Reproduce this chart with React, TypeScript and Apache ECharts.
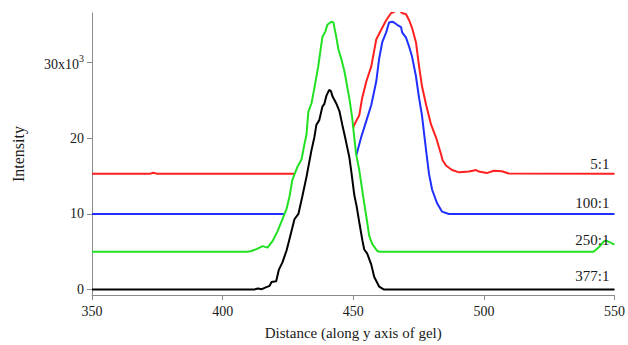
import React, { useEffect, useRef } from "react";
import * as echarts from "echarts";

// x: distance along y axis of gel, y: intensity in thousands.
// "-" marks where a trace runs hidden underneath the 250:1 trace.
const redPoints: ([number, number] | string)[] = [
  [350, 15.3], [372, 15.3], [373.5, 15.45], [375, 15.3], [427.4, 15.3],
  "-",
  [450.0, 21.4], [450.4, 21.8], [452.3, 23.05], [453.4, 25.3], [455, 27.5], [456.9, 29.5],
  [458.8, 33.05], [460.7, 34.35], [462.6, 35.6], [464.5, 36.56], [465.6, 36.7], [466.5, 36.95],
  [467.5, 36.95], [468.7, 36.56], [470.2, 36.4], [471.4, 35.6], [472.5, 34.6], [474, 32.7],
  [475.2, 29.5], [476.3, 26.9], [477.9, 24.4], [479.8, 21.8], [481.7, 20.1], [483.6, 17.9],
  [484.2, 17.1], [485.5, 16.4], [487.8, 15.8], [490.5, 15.5], [494.3, 15.6], [497, 15.8],
  [498.1, 15.6], [501.1, 15.4], [503.8, 15.7], [506.9, 15.65], [509.5, 15.35], [550, 15.3],
];

const bluePoints: ([number, number] | string)[] = [
  [350, 10.0], [423.7, 10.0],
  "-",
  [451.2, 17.8],
  [453, 20.1], [455, 22.3], [456.9, 24.4], [458.8, 27.5], [459.9, 30.5], [461.1, 32.7],
  [462.6, 34.0], [463.7, 35.3], [464.9, 35.4], [465.6, 35.3], [466.8, 35.0], [468.3, 34.7],
  [468.7, 34.0], [470.2, 33.3], [471.4, 32.1], [472.5, 30.8], [474, 28.2], [475.2, 25.3],
  [476.3, 23.05], [477.3, 20.1], [478.2, 17.5], [479, 15.3], [480.2, 13.2], [482.1, 11.4],
  [484, 10.3], [486.6, 10.0], [550, 10.0],
];

const greenPoints: [number, number][] = [
  [350, 5.0], [409.5, 5.0], [411, 5.1], [413, 5.35], [415.3, 5.75], [417.2, 5.55], [419.1, 6.4],
  [421, 7.7], [422.9, 9.3], [424.4, 10.6], [425.6, 12.3], [426.7, 14.5], [428.6, 16.2],
  [430.2, 17.2], [431.3, 19.2], [432.1, 20.5], [432.8, 23.5], [434, 24.6], [435.1, 26.6],
  [436.6, 29.5], [437.4, 31.5], [438.2, 33.4], [439.3, 34.1], [440.1, 35.0], [441.6, 35.4],
  [442.4, 35.3], [443.5, 33.4], [444.3, 31.8], [445.4, 30.5], [446.6, 28.9], [447.3, 27.6],
  [447.7, 26.8], [448.5, 25.3], [449.6, 22.7], [450.4, 20.1], [451.1, 17.9], [452.3, 15.8],
  [454.2, 11.4], [455.3, 9.0], [456.1, 7.1], [457.3, 6.0], [459.2, 5.1], [460, 5.0],
  [542, 5.0], [544, 5.6], [546, 6.4], [547, 6.45], [548.5, 6.2], [550, 5.95],
];

const blackPoints: [number, number][] = [
  [350, 0], [412, 0], [413.5, 0.15], [415, 0.05], [416.5, 0.3], [418, 0.5], [418.7, 1.0],
  [420.5, 1.1], [421.5, 2.6], [422.9, 3.6], [424.5, 5.2], [425.6, 6.7], [427.5, 9.3],
  [429, 10.0], [430.5, 12.3], [432.1, 14.9], [434, 18.4], [435.1, 20.1], [435.9, 21.8],
  [437, 22.4], [438.2, 24.2], [438.9, 24.5], [439.7, 25.6], [440.8, 26.4], [441.5, 26.2],
  [442, 25.6], [443.5, 24.6], [444.7, 23.6], [445.8, 21.8], [446.9, 20.1], [447.7, 18.8],
  [448.5, 17.5], [449.3, 15.5], [450.4, 12.5], [451.3, 11.0], [452.5, 8.5], [453.5, 6.5],
  [454.2, 5.3], [455.3, 4.8], [456.9, 3.3], [458, 1.7], [459.9, 0.4], [461.8, 0], [550, 0],
];

const seriesNames = ["5:1", "100:1", "250:1", "377:1"];
const seriesBaselines = [15.3, 10.0, 5.0, 0];
const xTicks = [350, 400, 450, 500, 550];
const yTicks = [0, 10, 20, 30];

const FONT = "'Liberation Serif', 'Times New Roman', serif";
const AXIS_COLOR = "#8a8a8a";
const TEXT_COLOR = "#1a1a1a";

export default function App() {
  const ref = useRef<HTMLDivElement>(null);

  useEffect(() => {
    document.body.style.margin = "0";
    if (!ref.current) return;
    const chart = echarts.init(ref.current, null, { renderer: "svg" });

    const colors = ["#ff2020", "#2030ff", "#22e022", "#000000"];
    const pointSets = [redPoints, bluePoints, greenPoints, blackPoints];
    const labelOffsets = [-2, -3, -4, -6];

    const series = pointSets.map((pts, i) => ({
      type: "line",
      name: seriesNames[i],
      data: pts,
      showSymbol: false,
      symbol: "none",
      smooth: false,
      connectNulls: false,
      clip: true,
      lineStyle: { color: colors[i], width: 2 },
      itemStyle: { color: colors[i] },
      z: 2 + i,
      markPoint: {
        silent: true,
        symbol: "circle",
        symbolSize: 0,
        data: [
          {
            coord: [xTicks[xTicks.length - 1], seriesBaselines[i]],
            label: {
              show: true,
              formatter: seriesNames[i],
              position: [-5, labelOffsets[i]],
              align: "right",
              verticalAlign: "bottom",
              fontFamily: FONT,
              fontSize: 15,
              color: TEXT_COLOR,
            },
          },
        ],
      },
    }));

    chart.setOption({
      animation: false,
      grid: { left: 92, right: 12, top: 13, bottom: 45, containLabel: false },
      xAxis: {
        type: "value",
        min: xTicks[0],
        max: xTicks[xTicks.length - 1],
        interval: 50,
        name: "Distance (along y axis of gel)",
        nameLocation: "middle",
        nameGap: 30,
        nameTextStyle: { fontFamily: FONT, fontSize: 15, color: TEXT_COLOR },
        axisLine: { show: true, onZero: false, lineStyle: { color: AXIS_COLOR, width: 1 } },
        axisTick: { show: true, length: 5, lineStyle: { color: AXIS_COLOR } },
        axisLabel: { fontFamily: FONT, fontSize: 14, color: TEXT_COLOR, margin: 9 },
        splitLine: { show: false },
      },
      yAxis: {
        type: "value",
        min: -0.714,
        max: 36.56,
        name: "Intensity",
        nameLocation: "middle",
        nameGap: 66,
        nameTextStyle: { fontFamily: FONT, fontSize: 16, color: TEXT_COLOR },
        axisLine: { show: true, onZero: false, lineStyle: { color: AXIS_COLOR, width: 1 } },
        axisTick: { show: true, length: 5, customValues: yTicks, lineStyle: { color: AXIS_COLOR } },
        axisLabel: {
          customValues: yTicks,
          fontFamily: FONT,
          fontSize: 14,
          color: TEXT_COLOR,
          margin: 8,
          formatter: (v: number) => (v === 30 ? "{n|30x10}{s|3}" : String(v)),
          rich: {
            n: { fontFamily: FONT, fontSize: 14, color: TEXT_COLOR, lineHeight: 18, verticalAlign: "bottom" },
            s: { fontFamily: FONT, fontSize: 10, color: TEXT_COLOR, lineHeight: 18, verticalAlign: "top" },
          },
        },
        splitLine: { show: false },
      },
      series,
    });

    return () => chart.dispose();
  }, []);

  return <div ref={ref} style={{ width: 628, height: 345 }} />;
}
